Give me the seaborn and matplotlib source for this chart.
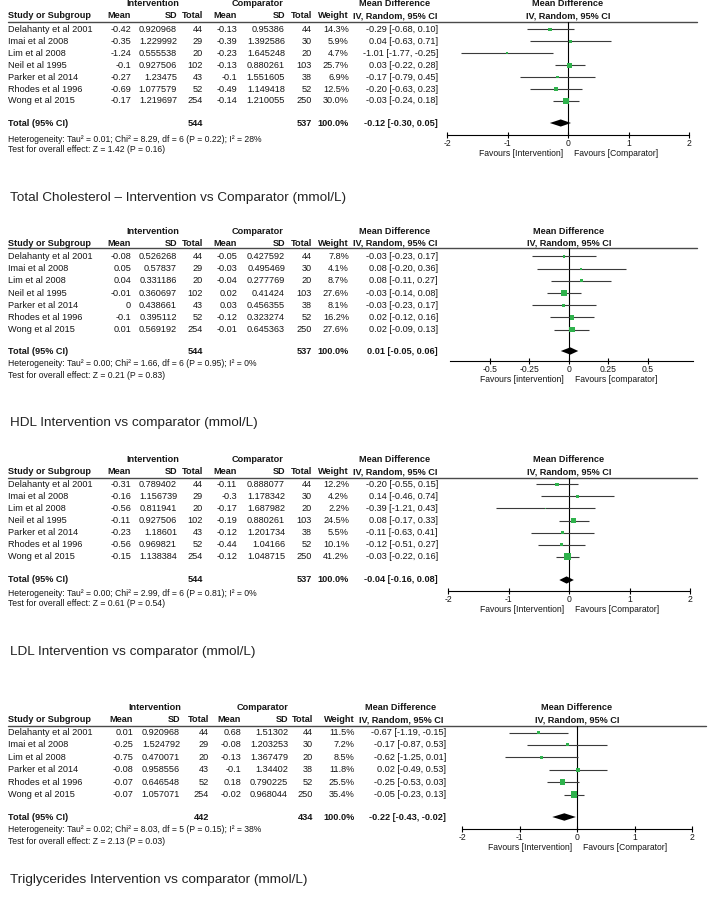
import matplotlib
matplotlib.use('Agg')
import matplotlib.pyplot as plt
from matplotlib import font_manager as fm
import numpy as np
import pandas as pd
import seaborn as sns

# ------------------------------------------------------------------ data
studies7 = ["Delahanty et al 2001", "Imai et al 2008", "Lim et al 2008", "Neil et al 1995",
            "Parker et al 2014", "Rhodes et al 1996", "Wong et al 2015"]
studies6 = ["Delahanty et al 2001", "Imai et al 2008", "Lim et al 2008",
            "Parker et al 2014", "Rhodes et al 1996", "Wong et al 2015"]

# Total cholesterol
tc_int_mean = [-0.42, -0.35, -1.24, -0.1, -0.27, -0.69, -0.17]
tc_int_sd = [0.920968, 1.229992, 0.555538, 0.927506, 1.23475, 1.077579, 1.219697]
tc_int_n = [44, 29, 20, 102, 43, 52, 254]
tc_cmp_mean = [-0.13, -0.39, -0.23, -0.13, -0.1, -0.49, -0.14]
tc_cmp_sd = [0.95386, 1.392586, 1.645248, 0.880261, 1.551605, 1.149418, 1.210055]
tc_cmp_n = [44, 30, 20, 103, 38, 52, 250]
tc_weight = [14.3, 5.9, 4.7, 25.7, 6.9, 12.5, 30.0]
tc_md = [-0.29, 0.04, -1.01, 0.03, -0.17, -0.20, -0.03]
tc_lo = [-0.68, -0.63, -1.77, -0.22, -0.79, -0.63, -0.24]
tc_hi = [0.10, 0.71, -0.25, 0.28, 0.45, 0.23, 0.18]
tc_total = [-0.12, -0.30, 0.05]
tc_totals_n = [544, 537]
tc_het = "Heterogeneity: Tau\u00b2 = 0.01; Chi\u00b2 = 8.29, df = 6 (P = 0.22); I\u00b2 = 28%"
tc_test = "Test for overall effect: Z = 1.42 (P = 0.16)"
tc_title = "Total Cholesterol \u2013 Intervention vs Comparator (mmol/L)"
tc_favours = ["Favours [Intervention]", "Favours [Comparator]"]
tc_ticks = [-2, -1, 0, 1, 2]
tc_ticklabels = ["-2", "-1", "0", "1", "2"]

# HDL
hdl_int_mean = [-0.08, 0.05, 0.04, -0.01, 0, -0.1, 0.01]
hdl_int_sd = [0.526268, 0.57837, 0.331186, 0.360697, 0.438661, 0.395112, 0.569192]
hdl_int_n = [44, 29, 20, 102, 43, 52, 254]
hdl_cmp_mean = [-0.05, -0.03, -0.04, 0.02, 0.03, -0.12, -0.01]
hdl_cmp_sd = [0.427592, 0.495469, 0.277769, 0.41424, 0.456355, 0.323274, 0.645363]
hdl_cmp_n = [44, 30, 20, 103, 38, 52, 250]
hdl_weight = [7.8, 4.1, 8.7, 27.6, 8.1, 16.2, 27.6]
hdl_md = [-0.03, 0.08, 0.08, -0.03, -0.03, 0.02, 0.02]
hdl_lo = [-0.23, -0.20, -0.11, -0.14, -0.23, -0.12, -0.09]
hdl_hi = [0.17, 0.36, 0.27, 0.08, 0.17, 0.16, 0.13]
hdl_total = [0.01, -0.05, 0.06]
hdl_totals_n = [544, 537]
hdl_het = "Heterogeneity: Tau\u00b2 = 0.00; Chi\u00b2 = 1.66, df = 6 (P = 0.95); I\u00b2 = 0%"
hdl_test = "Test for overall effect: Z = 0.21 (P = 0.83)"
hdl_title = "HDL Intervention vs comparator (mmol/L)"
hdl_favours = ["Favours [intervention]", "Favours [comparator]"]
hdl_ticks = [-0.5, -0.25, 0, 0.25, 0.5]
hdl_ticklabels = ["-0.5", "-0.25", "0", "0.25", "0.5"]

# LDL
ldl_int_mean = [-0.31, -0.16, -0.56, -0.11, -0.23, -0.56, -0.15]
ldl_int_sd = [0.789402, 1.156739, 0.811941, 0.927506, 1.18601, 0.969821, 1.138384]
ldl_int_n = [44, 29, 20, 102, 43, 52, 254]
ldl_cmp_mean = [-0.11, -0.3, -0.17, -0.19, -0.12, -0.44, -0.12]
ldl_cmp_sd = [0.888077, 1.178342, 1.687982, 0.880261, 1.201734, 1.04166, 1.048715]
ldl_cmp_n = [44, 30, 20, 103, 38, 52, 250]
ldl_weight = [12.2, 4.2, 2.2, 24.5, 5.5, 10.1, 41.2]
ldl_md = [-0.20, 0.14, -0.39, 0.08, -0.11, -0.12, -0.03]
ldl_lo = [-0.55, -0.46, -1.21, -0.17, -0.63, -0.51, -0.22]
ldl_hi = [0.15, 0.74, 0.43, 0.33, 0.41, 0.27, 0.16]
ldl_total = [-0.04, -0.16, 0.08]
ldl_totals_n = [544, 537]
ldl_het = "Heterogeneity: Tau\u00b2 = 0.00; Chi\u00b2 = 2.99, df = 6 (P = 0.81); I\u00b2 = 0%"
ldl_test = "Test for overall effect: Z = 0.61 (P = 0.54)"
ldl_title = "LDL Intervention vs comparator (mmol/L)"
ldl_favours = ["Favours [Intervention]", "Favours [Comparator]"]
ldl_ticks = [-2, -1, 0, 1, 2]
ldl_ticklabels = ["-2", "-1", "0", "1", "2"]

# Triglycerides
tg_int_mean = [0.01, -0.25, -0.75, -0.08, -0.07, -0.07]
tg_int_sd = [0.920968, 1.524792, 0.470071, 0.958556, 0.646548, 1.057071]
tg_int_n = [44, 29, 20, 43, 52, 254]
tg_cmp_mean = [0.68, -0.08, -0.13, -0.1, 0.18, -0.02]
tg_cmp_sd = [1.51302, 1.203253, 1.367479, 1.34402, 0.790225, 0.968044]
tg_cmp_n = [44, 30, 20, 38, 52, 250]
tg_weight = [11.5, 7.2, 8.5, 11.8, 25.5, 35.4]
tg_md = [-0.67, -0.17, -0.62, 0.02, -0.25, -0.05]
tg_lo = [-1.19, -0.87, -1.25, -0.49, -0.53, -0.23]
tg_hi = [-0.15, 0.53, 0.01, 0.53, 0.03, 0.13]
tg_total = [-0.22, -0.43, -0.02]
tg_totals_n = [442, 434]
tg_het = "Heterogeneity: Tau\u00b2 = 0.02; Chi\u00b2 = 8.03, df = 5 (P = 0.15); I\u00b2 = 38%"
tg_test = "Test for overall effect: Z = 2.13 (P = 0.03)"
tg_title = "Triglycerides Intervention vs comparator (mmol/L)"
tg_favours = ["Favours [Intervention]", "Favours [Comparator]"]
tg_ticks = [-2, -1, 0, 1, 2]
tg_ticklabels = ["-2", "-1", "0", "1", "2"]

# ------------------------------------------------------------------ style
sns.set_theme(style='white')
plt.rcParams['font.family'] = ['Liberation Sans', 'DejaVu Sans']


def has_font(name):
    try:
        fm.findfont(fm.FontProperties(family=name), fallback_to_default=False)
        return True
    except Exception:
        return False


FS = 6.6
if has_font('Liberation Sans Narrow'):
    NARROW = ['Liberation Sans Narrow', 'Liberation Sans', 'DejaVu Sans']
    FSN = 6.8
else:
    NARROW = ['Liberation Sans', 'DejaVu Sans']
    FSN = 6.2
TXT = '#161616'
GREEN = '#2fb24c'
W, H = 709, 897

fig = plt.figure(figsize=(W / 100, H / 100), dpi=100)
bg = fig.add_axes([0, 0, 1, 1])
bg.set_xlim(0, W)
bg.set_ylim(H, 0)
bg.axis('off')


def fmt(v):
    s = repr(float(v))
    return s[:-2] if s.endswith('.0') else s


def draw_panel(d, lay, col, fx):
    n = len(d['studies'])
    T = dict(fontsize=FS, color=TXT, va='center')
    B = dict(T, fontweight='bold')
    # header rows
    bg.text(col['int_c'], lay['hdr1'], 'Intervention', ha='center', **B)
    bg.text(col['cmp_c'], lay['hdr1'], 'Comparator', ha='center', **B)
    bg.text(col['mdc'], lay['hdr1'], 'Mean Difference', ha='center', **B)
    bg.text(fx['zero'], lay['hdr1'], 'Mean Difference', ha='center', **B)
    y2 = lay['hdr2']
    bg.text(col['name'], y2, 'Study or Subgroup', ha='left', **B)
    for key, lab in [('im', 'Mean'), ('isd', 'SD'), ('itot', 'Total'), ('cm', 'Mean'),
                     ('csd', 'SD'), ('ctot', 'Total'), ('w', 'Weight')]:
        bg.text(col[key], y2, lab, ha='right', **B)
    bg.text(col['mdc'], y2, 'IV, Random, 95% CI', ha='center', **B)
    bg.text(fx['zero'], y2, 'IV, Random, 95% CI', ha='center', **B)
    bg.plot([col['name'], col['line_end']], [lay['line']] * 2, color='#4a4a4a', lw=1.0)

    # study rows
    for i in range(n):
        y = lay['row0'] + i * lay['dy']
        bg.text(col['name'], y, d['studies'][i], ha='left', **T)
        bg.text(col['im'], y, fmt(d['int_mean'][i]), ha='right', **T)
        bg.text(col['isd'], y, fmt(d['int_sd'][i]), ha='right', **T)
        bg.text(col['itot'], y, str(d['int_n'][i]), ha='right', **T)
        bg.text(col['cm'], y, fmt(d['cmp_mean'][i]), ha='right', **T)
        bg.text(col['csd'], y, fmt(d['cmp_sd'][i]), ha='right', **T)
        bg.text(col['ctot'], y, str(d['cmp_n'][i]), ha='right', **T)
        bg.text(col['w'], y, f"{d['weight'][i]:.1f}%", ha='right', **T)
        bg.text(col['md'], y, f"{d['md'][i]:.2f} [{d['lo'][i]:.2f}, {d['hi'][i]:.2f}]", ha='right', **T)

    # total row
    yt = lay['total']
    tm, tl, th = d['total']
    bg.text(col['name'], yt, 'Total (95% CI)', ha='left', **B)
    bg.text(col['itot'], yt, str(d['totals_n'][0]), ha='right', **B)
    bg.text(col['ctot'], yt, str(d['totals_n'][1]), ha='right', **B)
    bg.text(col['w'], yt, '100.0%', ha='right', **B)
    bg.text(col['md'], yt, f"{tm:.2f} [{tl:.2f}, {th:.2f}]", ha='right', **B)
    bg.text(col['name'], lay['het'], d['het'], ha='left', fontsize=FSN, family=NARROW,
            color=TXT, va='center')
    bg.text(col['name'], lay['test'], d['test'], ha='left', fontsize=FSN, family=NARROW,
            color=TXT, va='center')

    # forest axes
    x0, x1 = fx['px']
    ax = fig.add_axes([x0 / W, 1 - lay['axis'] / H, (x1 - x0) / W, (lay['axis'] - lay['line']) / H])
    ax.patch.set_visible(False)
    df = pd.DataFrame({'md': d['md'], 'lo': d['lo'], 'hi': d['hi'],
                       'w': d['weight'], 'row': np.arange(n)})
    ax.hlines(df['row'], df['lo'], df['hi'], color='#3a3a3a', lw=0.8, zorder=2)
    sns.scatterplot(data=df, x='md', y='row', size='w', sizes=(0, 26), size_norm=(0, 45),
                    marker='s', color=GREEN, linewidth=0, legend=False, ax=ax, zorder=3)
    trow = (yt - lay['row0']) / lay['dy']
    hh = 0.3
    ax.fill([tl, tm, th, tm], [trow, trow - hh, trow, trow + hh], color='black', lw=0, zorder=4)
    ax.axvline(0, color='black', lw=0.8, zorder=1)
    ax.set_xlim(*fx['xlim'])
    ax.set_ylim((lay['axis'] - lay['row0']) / lay['dy'], (lay['line'] - lay['row0']) / lay['dy'])
    ax.set_xticks(d['ticks'])
    ax.set_xticklabels(d['ticklabels'])
    for lbl in ax.get_xticklabels():
        lbl.set_fontfamily(NARROW)
        lbl.set_color(TXT)
    ax.tick_params(axis='x', direction='inout', length=5, width=0.8, labelsize=FSN, pad=0.5,
                   color='black', bottom=True)
    ax.set_yticks([])
    ax.set_xlabel('')
    ax.set_ylabel('')
    for s in ['left', 'right', 'top']:
        ax.spines[s].set_visible(False)
    ax.spines['bottom'].set_color('black')
    ax.spines['bottom'].set_linewidth(0.8)

    yf = lay['axis'] + 19
    bg.text(fx['zero'] - 5, yf, d['favours'][0], ha='right', va='center', fontsize=FSN,
            family=NARROW, color=TXT)
    bg.text(fx['zero'] + 6, yf, d['favours'][1], ha='left', va='center', fontsize=FSN,
            family=NARROW, color=TXT)
    bg.text(10, lay['title'], d['title'], ha='left', va='center', fontsize=9.7, color='#222222')


def pack(prefix, studies):
    g = globals()
    return dict(studies=studies, int_mean=g[prefix + '_int_mean'], int_sd=g[prefix + '_int_sd'],
                int_n=g[prefix + '_int_n'], cmp_mean=g[prefix + '_cmp_mean'],
                cmp_sd=g[prefix + '_cmp_sd'], cmp_n=g[prefix + '_cmp_n'],
                weight=g[prefix + '_weight'], md=g[prefix + '_md'], lo=g[prefix + '_lo'],
                hi=g[prefix + '_hi'], total=g[prefix + '_total'],
                totals_n=g[prefix + '_totals_n'], het=g[prefix + '_het'],
                test=g[prefix + '_test'], title=g[prefix + '_title'],
                favours=g[prefix + '_favours'], ticks=g[prefix + '_ticks'],
                ticklabels=g[prefix + '_ticklabels'])


COL = dict(name=8, im=131, isd=177, itot=203, cm=237, csd=285, ctot=312, w=349, md=438,
           mdc=395, int_c=153, cmp_c=258, line_end=697)
COL4 = dict(name=8, im=133, isd=180, itot=209, cm=241, csd=288, ctot=313, w=355, md=446,
            mdc=401, int_c=155, cmp_c=263, line_end=706)

LAY_TC = dict(hdr1=4, hdr2=16, line=22, row0=29.5, dy=11.9, total=123, het=139, test=150,
              axis=135, title=198)
LAY_HDL = dict(hdr1=231, hdr2=243, line=248, row0=256.5, dy=12.2, total=351, het=364, test=376,
               axis=361, title=423)
LAY_LDL = dict(hdr1=460, hdr2=472, line=478, row0=484.5, dy=12.0, total=580, het=593, test=604,
               axis=591, title=652)
LAY_TG = dict(hdr1=707, hdr2=720, line=726, row0=732.5, dy=12.4, total=817, het=830, test=842,
              axis=829, title=880)

FX_TC = dict(px=(447, 689), xlim=(-2, 2), zero=568)
FX_HDL = dict(px=(450, 693), xlim=(-0.75, 0.785), zero=569)
FX_LDL = dict(px=(448, 690), xlim=(-2, 2), zero=569)
FX_TG = dict(px=(462, 692), xlim=(-2, 2), zero=577)

draw_panel(pack('tc', studies7), LAY_TC, COL, FX_TC)
draw_panel(pack('hdl', studies7), LAY_HDL, COL, FX_HDL)
draw_panel(pack('ldl', studies7), LAY_LDL, COL, FX_LDL)
draw_panel(pack('tg', studies6), LAY_TG, COL4, FX_TG)

fig.savefig('out.png', dpi=100, facecolor='white')
